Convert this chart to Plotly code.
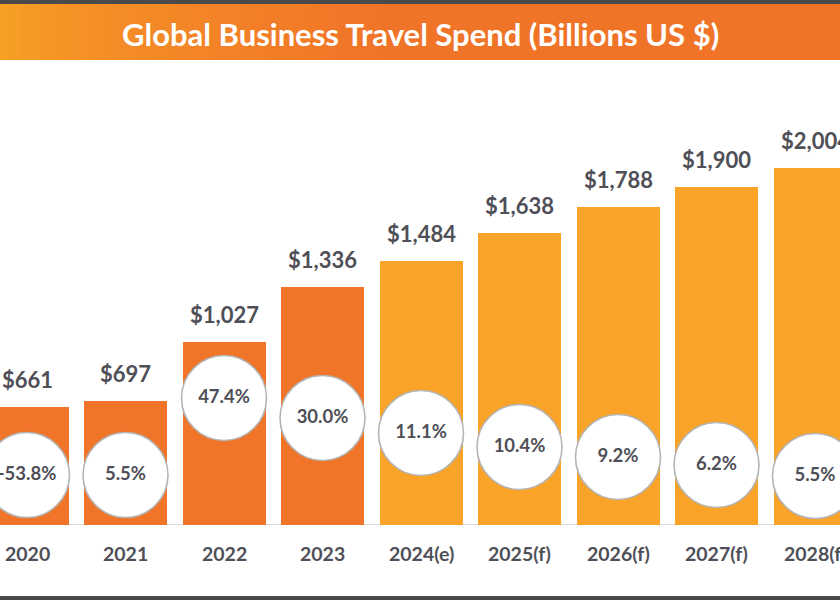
import plotly.graph_objects as go

# ---- data ----
years = ["2020", "2021", "2022", "2023", "2024(e)", "2025(f)", "2026(f)", "2027(f)", "2028(f)"]
spend = [661, 697, 1027, 1336, 1484, 1638, 1788, 1900, 2004]
growth = ["-53.8%", "5.5%", "47.4%", "30.0%", "11.1%", "10.4%", "9.2%", "6.2%", "5.5%"]
is_forecast = [False, False, False, False, True, True, True, True, True]

# ---- layout constants ----
W, H = 840, 600
M_T, M_B = 60, 75
PLOT_H = H - M_T - M_B
PX_PER_UNIT = 0.178
Y_MAX = PLOT_H / PX_PER_UNIT
STEP_PX = 98.5
FIRST_PX = 27
X_RANGE = [-FIRST_PX / STEP_PX, (W - FIRST_PX) / STEP_PX]
# circle centre heights above baseline (pixels) - layout only
circle_px = [50, 50, 127, 107, 92, 78, 68, 60, 49]

ACTUAL = "#F07529"
FORECAST = "#F9A328"
TEXT = "#4F4F57"
FONT = "Lato"

xs = list(range(len(years)))
colors = [FORECAST if f else ACTUAL for f in is_forecast]

fig = go.Figure()
fig.add_trace(go.Bar(
    x=xs, y=spend, width=83 / STEP_PX, marker=dict(color=colors, line=dict(width=0)),
    hoverinfo="skip", showlegend=False,
))
fig.add_trace(go.Scatter(
    x=xs, y=[p / PX_PER_UNIT for p in circle_px], mode="markers+text",
    marker=dict(size=85, color="white", line=dict(color="#B4B4B4", width=1.6)),
    text=growth, textposition="middle center",
    textfont=dict(family=FONT, size=18.5, color=TEXT, weight="bold"),
    cliponaxis=False, hoverinfo="skip", showlegend=False,
))

annotations = []
for x, v in zip(xs, spend):
    annotations.append(dict(
        x=x, y=v, xref="x", yref="y", text=f"${v:,}", showarrow=False,
        yanchor="bottom", yshift=12,
        font=dict(family=FONT, size=22, color=TEXT, weight="bold"),
    ))
for x, lab in zip(xs, years):
    annotations.append(dict(
        x=x, y=0, xref="x", yref="y", text=lab, showarrow=False,
        yanchor="middle", yshift=-28,
        font=dict(family=FONT, size=19.5, color=TEXT, weight="bold"),
    ))
annotations.append(dict(
    x=0.5, y=1 - 34 / H, xref="paper", yref="paper", xanchor="center", yanchor="middle",
    text="Global Business Travel Spend (Billions US $)", showarrow=False,
    font=dict(family=FONT, size=31, color="white", weight="bold"),
))

# banner gradient built from thin strips
def lerp(c1, c2, t):
    return tuple(round(a + (b - a) * t) for a, b in zip(c1, c2))

c_left = (247, 160, 36)
c_right = (240, 116, 40)
shapes = []
N = 84
for i in range(N):
    x0 = i / N
    x1 = (i + 1) / N + 0.002
    t = min(1.0, (x0 / 0.45)) ** 0.7
    r, g, b = lerp(c_left, c_right, t)
    shapes.append(dict(type="rect", xref="paper", yref="paper", x0=x0, x1=x1,
                       y0=1 - 60 / H, y1=1 - 4 / H, fillcolor=f"rgb({r},{g},{b})",
                       line=dict(width=0), layer="below"))
# top and bottom dark bands
shapes.append(dict(type="rect", xref="paper", yref="paper", x0=0, x1=1,
                   y0=1 - 4 / H, y1=1, fillcolor="#4A4A4A", line=dict(width=0)))
shapes.append(dict(type="rect", xref="paper", yref="paper", x0=0, x1=1,
                   y0=0, y1=4 / H, fillcolor="#4A4A4A", line=dict(width=0)))
# baseline
shapes.append(dict(type="line", xref="paper", yref="y", x0=0, x1=1, y0=0, y1=0,
                   line=dict(color="#DCDCDC", width=2), layer="below"))

# convert figure-pixel fractions to plot-domain paper coords
def fig_frac_to_paper(f):
    return (f * H - M_B) / PLOT_H

for s in shapes:
    if s["yref"] == "paper":
        s["y0"] = fig_frac_to_paper(s["y0"])
        s["y1"] = fig_frac_to_paper(s["y1"])
for a in annotations:
    if a.get("yref") == "paper":
        a["y"] = fig_frac_to_paper(a["y"])

fig.update_layout(
    width=W, height=H,
    margin=dict(l=0, r=0, t=M_T, b=M_B, pad=0),
    paper_bgcolor="white", plot_bgcolor="white",
    xaxis=dict(range=X_RANGE, showticklabels=False, showgrid=False, zeroline=False,
               showline=False, ticks="", fixedrange=True),
    yaxis=dict(range=[0, Y_MAX], visible=False, fixedrange=True),
    annotations=annotations,
    shapes=shapes,
    bargap=0,
)
fig.write_html("out.html")
